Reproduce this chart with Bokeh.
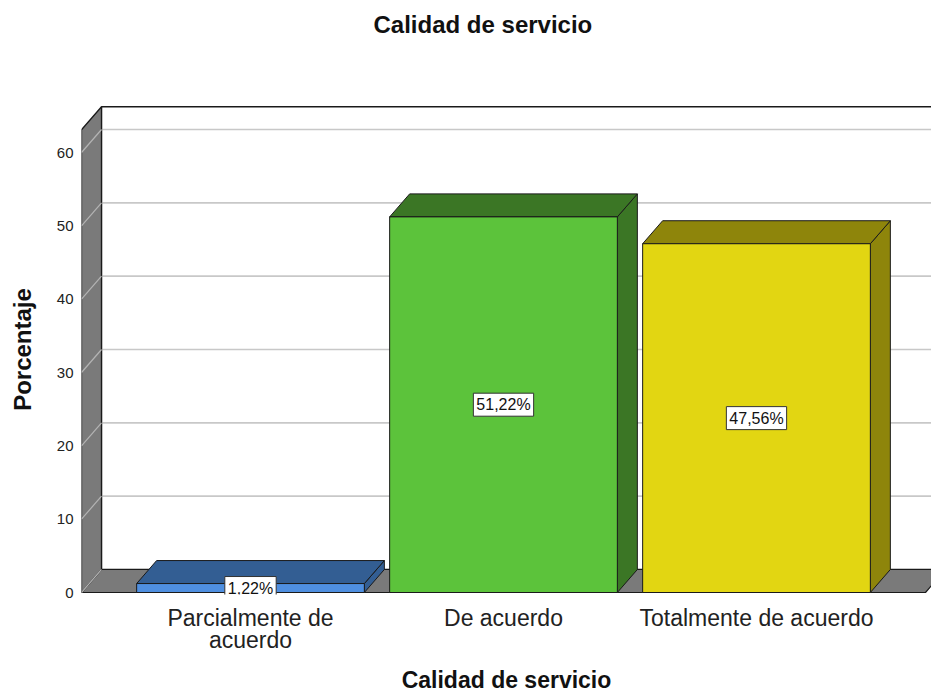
from bokeh.plotting import figure
from bokeh.models import Range1d, FixedTicker, ColumnDataSource, Title
from bokeh.core.properties import value
from bokeh.embed import file_html
from bokeh.resources import INLINE

# ---------------- data ----------------
categories = ["Parcialmente de acuerdo", "De acuerdo", "Totalmente de acuerdo"]
category_tick_labels = ["Parcialmente de\nacuerdo", "De acuerdo", "Totalmente de acuerdo"]
percentages = [1.22, 51.22, 47.56]
value_labels = ["1,22%", "51,22%", "47,56%"]
y_ticks = [0, 10, 20, 30, 40, 50, 60]
axis_top = 63.1

# ---------------- style / layout ----------------
FONT = "Liberation Sans"
W, H = 931, 697
F_LEFT, F_TOP, F_BOTTOM = 81, 104, 103          # borders around the frame (px)
FRAME_W = W - F_LEFT
FRAME_H = H - F_TOP - F_BOTTOM
XPX = 253.0        # pixels per category step
YPX = 440.0 / 60   # pixels per percent
MARGIN = 169.0 / XPX
BAR_W = 0.9
DX = 20.0 / XPX    # 3D depth offset
DY = 23.0 / YPX

x_start = -MARGIN
x_end = x_start + FRAME_W / XPX
y_start = -2.0 / YPX
y_end = y_start + FRAME_H / YPX

front_cols = ["#4f8fe0", "#5cc33b", "#e2d612"]
side_cols = ["#335e93", "#3b7625", "#8e850b"]
WALL = "#7a7a7a"
EDGE = "#1a1a1a"

p = figure(width=W, height=H, x_range=Range1d(x_start, x_end), y_range=Range1d(y_start, y_end),
           output_backend="svg", toolbar_location=None,
           min_border_left=F_LEFT, min_border_right=0, min_border_top=F_TOP, min_border_bottom=F_BOTTOM)
p.grid.visible = False
p.outline_line_color = None
p.background_fill_color = "white"
p.border_fill_color = "white"

floor_l = -MARGIN
floor_r = len(categories) - 1 + MARGIN
far = x_end + 1.0

# back wall
p.patch([floor_l + DX, far, far, floor_l + DX], [DY, DY, axis_top + DY, axis_top + DY],
        fill_color="white", line_color=EDGE, line_width=1.3)
# back wall grid lines
p.multi_line([[floor_l + DX, far] for v in y_ticks[1:]], [[v + DY, v + DY] for v in y_ticks[1:]],
             line_color="#c8c8c8", line_width=1.6)
# floor
p.patch([floor_l, floor_r, floor_r + DX, floor_l + DX], [0, 0, DY, DY],
        fill_color=WALL, line_color=EDGE, line_width=1.2)
# left wall
p.patch([floor_l, floor_l, floor_l + DX, floor_l + DX], [0, axis_top, axis_top + DY, DY],
        fill_color=WALL, line_color=EDGE, line_width=1.3)
p.multi_line([[floor_l, floor_l + DX] for v in y_ticks], [[v, v + DY] for v in y_ticks],
             line_color="#b4b4b4", line_width=1.2)

# bars
xs = list(range(len(categories)))
top_x, top_y, side_x, side_y = [], [], [], []
for i, v in zip(xs, percentages):
    l, r = i - BAR_W / 2, i + BAR_W / 2
    top_x.append([l, r, r + DX, l + DX])
    top_y.append([v, v, v + DY, v + DY])
    side_x.append([r, r, r + DX, r + DX])
    side_y.append([0, v, v + DY, DY])
p.patches(side_x, side_y, fill_color=side_cols, line_color=EDGE, line_width=1)
p.patches(top_x, top_y, fill_color=side_cols, line_color=EDGE, line_width=1)
p.quad(left=[i - BAR_W / 2 for i in xs], right=[i + BAR_W / 2 for i in xs],
       bottom=[0] * len(xs), top=percentages, fill_color=front_cols, line_color=EDGE, line_width=1)

# value labels
src = ColumnDataSource(dict(x=xs, y=[v / 2 for v in percentages], t=value_labels))
p.text(x="x", y="y", text="t", source=src, text_align="center", text_baseline="middle",
       text_font=value(FONT), text_font_size="16px", text_color="#111111",
       background_fill_color="white", border_line_color="#333333", border_line_width=1,
       padding=3)

# axes
ya = p.yaxis[0]
ya.ticker = FixedTicker(ticks=y_ticks)
ya.axis_line_color = None
ya.major_tick_line_color = None
ya.minor_tick_line_color = None
ya.major_tick_out = 0
ya.major_label_standoff = 8
ya.major_label_text_font = FONT
ya.major_label_text_font_size = "15px"
ya.major_label_text_color = "#222222"
ya.axis_label = "Porcentaje"
ya.axis_label_text_font = FONT
ya.axis_label_text_font_size = "24px"
ya.axis_label_text_font_style = "bold"
ya.axis_label_text_color = "#111111"
ya.axis_label_standoff = 18

xa = p.xaxis[0]
xa.ticker = FixedTicker(ticks=xs)
xa.major_label_overrides = {i: t for i, t in zip(xs, category_tick_labels)}
xa.axis_line_color = None
xa.major_tick_line_color = None
xa.minor_tick_line_color = None
xa.major_tick_out = 0
xa.major_label_standoff = 10
xa.major_label_text_font = FONT
xa.major_label_text_font_size = "23px"
xa.major_label_text_line_height = 0.87
xa.major_label_text_color = "#222222"
xa.axis_label = "Calidad de servicio"
xa.axis_label_text_font = FONT
xa.axis_label_text_font_size = "23px"
xa.axis_label_text_font_style = "bold"
xa.axis_label_text_color = "#111111"
xa.axis_label_standoff = 11

# spacer between the frame and the title, then the title itself
p.add_layout(Title(text=" ", text_font_size="10px", standoff=54), "above")
p.add_layout(Title(text="Calidad de servicio", text_font=FONT, text_font_size="24px",
                   text_font_style="bold", text_color="#111111", align="left", offset=292,
                   standoff=0), "above")

open("out.html", "w").write(file_html(p, INLINE))
